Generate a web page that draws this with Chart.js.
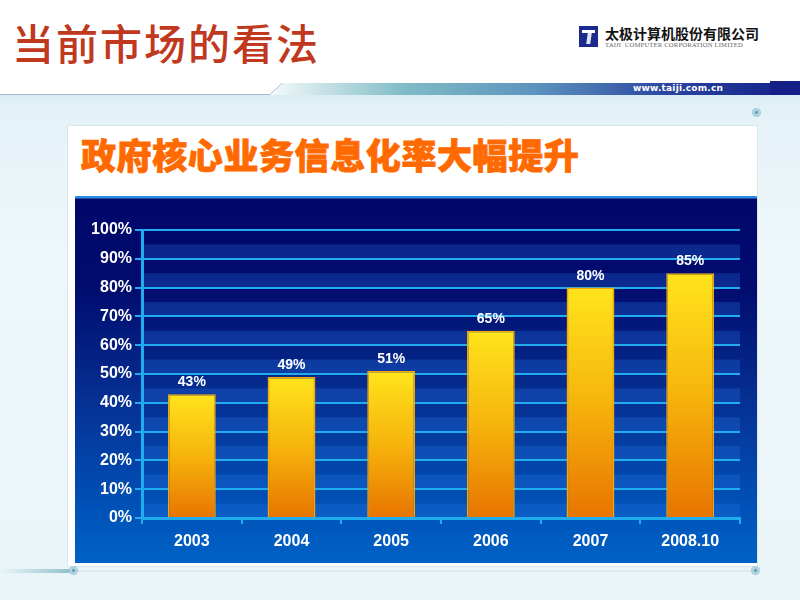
<!DOCTYPE html>
<html><head><meta charset="utf-8">
<script src="https://cdn.jsdelivr.net/npm/chart.js@4"></script>
<style>
html,body{margin:0;padding:0;width:800px;height:600px;overflow:hidden;}
body{position:relative;background:linear-gradient(180deg,#ffffff 0,#ffffff 95px,#e3f1f7 96px,#eef7fa 250px,#eaf5f9 600px);font-family:"Liberation Sans",Arial,sans-serif;}
.abs{position:absolute;}
#h1{left:12px;top:21px;font:500 42px/1 "Noto Sans CJK SC",sans-serif;color:#c0391e;letter-spacing:2px;white-space:nowrap;}
#logo{left:579px;top:26px;width:19px;height:21px;background:#1b2a8c;}
#logo .t1{position:absolute;left:3px;top:4px;width:13px;height:3px;background:#fff;}
#logo .t2{position:absolute;left:8px;top:7px;width:4px;height:11px;background:#dfe6f5;transform:skewX(-8deg);}
#cname{left:605px;top:26px;font:bold 14px/1 "Noto Sans CJK SC",sans-serif;color:#111;white-space:nowrap;}
#ename{left:605px;top:42px;font:6.6px/1 "Liberation Serif",serif;color:#666;white-space:nowrap;letter-spacing:0.2px;}
#url{left:633px;top:84px;font:bold 9px/1 "DejaVu Sans",sans-serif;color:#fff;letter-spacing:0.2px;white-space:nowrap;}
#panel{left:67px;top:125px;width:691px;height:442px;background:#fff;border:1px solid #dbe7ed;box-sizing:border-box;}
#title{left:81px;top:136px;font:900 35px/1 "Noto Sans CJK SC",sans-serif;color:#ff6a00;letter-spacing:0.6px;white-space:nowrap;-webkit-text-stroke:0.8px #ff6a00;}
#wrap{left:75px;top:196px;width:682px;height:367px;}
.dot{width:9px;height:9px;border-radius:50%;background:radial-gradient(circle,#6aa9b8 0,#6aa9b8 25%,#bcdbe4 35%,#9ccbd8 70%,#d6ebf0 100%);}
</style></head>
<body>
<svg class="abs" style="left:0;top:0" width="800" height="120">
  <defs>
    <linearGradient id="band" x1="0" x2="1" y1="0" y2="0">
      <stop offset="0" stop-color="#f4f9fa"/>
      <stop offset="0.25" stop-color="#7fbcc6"/>
      <stop offset="0.5" stop-color="#5d93bd"/>
      <stop offset="0.75" stop-color="#2a459f"/>
      <stop offset="1" stop-color="#131f88"/>
    </linearGradient>
    <linearGradient id="under" x1="0" x2="0" y1="0" y2="1">
      <stop offset="0" stop-color="#d9ecf2"/>
      <stop offset="1" stop-color="#e8f4f8" stop-opacity="0"/>
    </linearGradient>
  </defs>
  <rect x="0" y="95" width="800" height="20" fill="url(#under)"/>
  <polyline points="0,94.5 270,94.5 282,83.5 800,83.5" fill="none" stroke="#a9b7cc" stroke-width="1"/>
  <polygon points="272,95 283,83 800,83 800,95" fill="url(#band)"/>
  <rect x="770" y="81" width="30" height="14" fill="#131e86"/>
</svg>
<div id="h1" class="abs">当前市场的看法</div>
<div id="logo" class="abs"><div class="t1"></div><div class="t2"></div></div>
<div id="cname" class="abs">太极计算机股份有限公司</div>
<div id="ename" class="abs">TAIJI&nbsp; COMPUTER CORPORATION LIMITED</div>
<div id="url" class="abs">www.taiji.com.cn</div>
<div class="abs dot" style="left:752px;top:108px"></div>
<div id="panel" class="abs"></div>
<div id="title" class="abs">政府核心业务信息化率大幅提升</div>
<div class="abs" style="left:0;top:569px;width:72px;height:4px;background:linear-gradient(90deg,rgba(120,180,190,0) 0,#8fc0c8 100%)"></div>
<div class="abs" style="left:74px;top:570px;width:684px;height:2px;background:#dfe9ee"></div>
<div class="abs dot" style="left:69px;top:566px"></div>
<div class="abs dot" style="left:751px;top:566px"></div>
<div id="wrap" class="abs"><canvas id="c" width="682" height="367"></canvas></div>
<script>
const categories = ['2003', '2004', '2005', '2006', '2007', '2008.10'];
const rates = [43, 49, 51, 65, 80, 85];
const yMin = 0, yMax = 100, yStep = 5, yLabelStep = 10;

const CYAN = '#22acf0';

const bgPlugin = {
  id: 'bg',
  beforeDraw(chart) {
    const {ctx, width, height, chartArea, scales} = chart;
    ctx.save();
    const g = ctx.createLinearGradient(0, 0, 0, height);
    g.addColorStop(0, '#00076a');
    g.addColorStop(0.25, '#000c6e');
    g.addColorStop(0.55, '#062f92');
    g.addColorStop(0.85, '#0052b8');
    g.addColorStop(1, '#0062c6');
    ctx.fillStyle = g;
    ctx.fillRect(0, 0, width, height);
    ctx.fillStyle = '#2b8fe2';
    ctx.fillRect(0, 0, width, 2.5);
    const y = scales.y;
    ctx.fillStyle = 'rgba(40,120,230,0.28)';
    for (let v = yMin; v < yMax; v += yLabelStep) {
      const top = y.getPixelForValue(v + yStep), bot = y.getPixelForValue(v);
      ctx.fillRect(chartArea.left, top, chartArea.right - chartArea.left, bot - top);
    }
    ctx.restore();
  }
};

const labelPlugin = {
  id: 'vals',
  afterDatasetsDraw(chart) {
    const {ctx} = chart;
    const meta = chart.getDatasetMeta(0);
    ctx.save();
    ctx.fillStyle = '#ffffff';
    ctx.font = 'bold 14px "Liberation Sans", Arial, sans-serif';
    ctx.textAlign = 'center';
    ctx.textBaseline = 'alphabetic';
    meta.data.forEach((bar, i) => {
      ctx.fillText(rates[i] + '%', bar.x, bar.y - 8);
    });
    ctx.restore();
  }
};

new Chart(document.getElementById('c'), {
  type: 'bar',
  data: {
    labels: categories,
    datasets: [{
      data: rates,
      backgroundColor(ctx) {
        const chart = ctx.chart;
        if (!chart.chartArea || !chart.scales.y) return '#f5b000';
        const ys = chart.scales.y;
        const v = ctx.raw ?? 0;
        const top = ys.getPixelForValue(v), bot = ys.getPixelForValue(0);
        const g = chart.ctx.createLinearGradient(0, top, 0, bot);
        g.addColorStop(0, '#ffe41c');
        g.addColorStop(0.5, '#f6b40c');
        g.addColorStop(1, '#e87400');
        return g;
      },
      borderColor: '#f6a800',
      borderWidth: 1.5,
      barPercentage: 0.48,
      categoryPercentage: 1
    }]
  },
  options: {
    responsive: false,
    animation: false,
    devicePixelRatio: 1,
    layout: {padding: {top: 34, right: 17, left: 0, bottom: 0}},
    plugins: {legend: {display: false}, tooltip: {enabled: false}},
    scales: {
      x: {
        afterFit(s) { s.height = 45; },
        grid: {offset: true, drawOnChartArea: false, drawTicks: true, tickLength: 6, color: CYAN, lineWidth: 2},
        border: {display: true, color: CYAN, width: 3},
        ticks: {color: '#ffffff', padding: 8, font: {family: '"Liberation Sans", Arial, sans-serif', size: 16, weight: 'bold'}}
      },
      y: {
        min: yMin, max: yMax,
        afterFit(s) { s.width = 67; },
        grid: {
          color: CYAN, lineWidth: 2, drawTicks: true, tickLength: 7,
          tickColor(ctx) { return ctx.tick && ctx.tick.value % yLabelStep === 0 ? CYAN : 'rgba(0,0,0,0)'; }
        },
        border: {display: true, color: CYAN, width: 3},
        ticks: {
          stepSize: yStep, color: '#ffffff', padding: 3,
          font: {family: '"Liberation Sans", Arial, sans-serif', size: 16, weight: 'bold'},
          callback(v) { return v % yLabelStep === 0 ? v + '%' : ''; }
        }
      }
    }
  },
  plugins: [bgPlugin, labelPlugin]
});
</script>
</body></html>
